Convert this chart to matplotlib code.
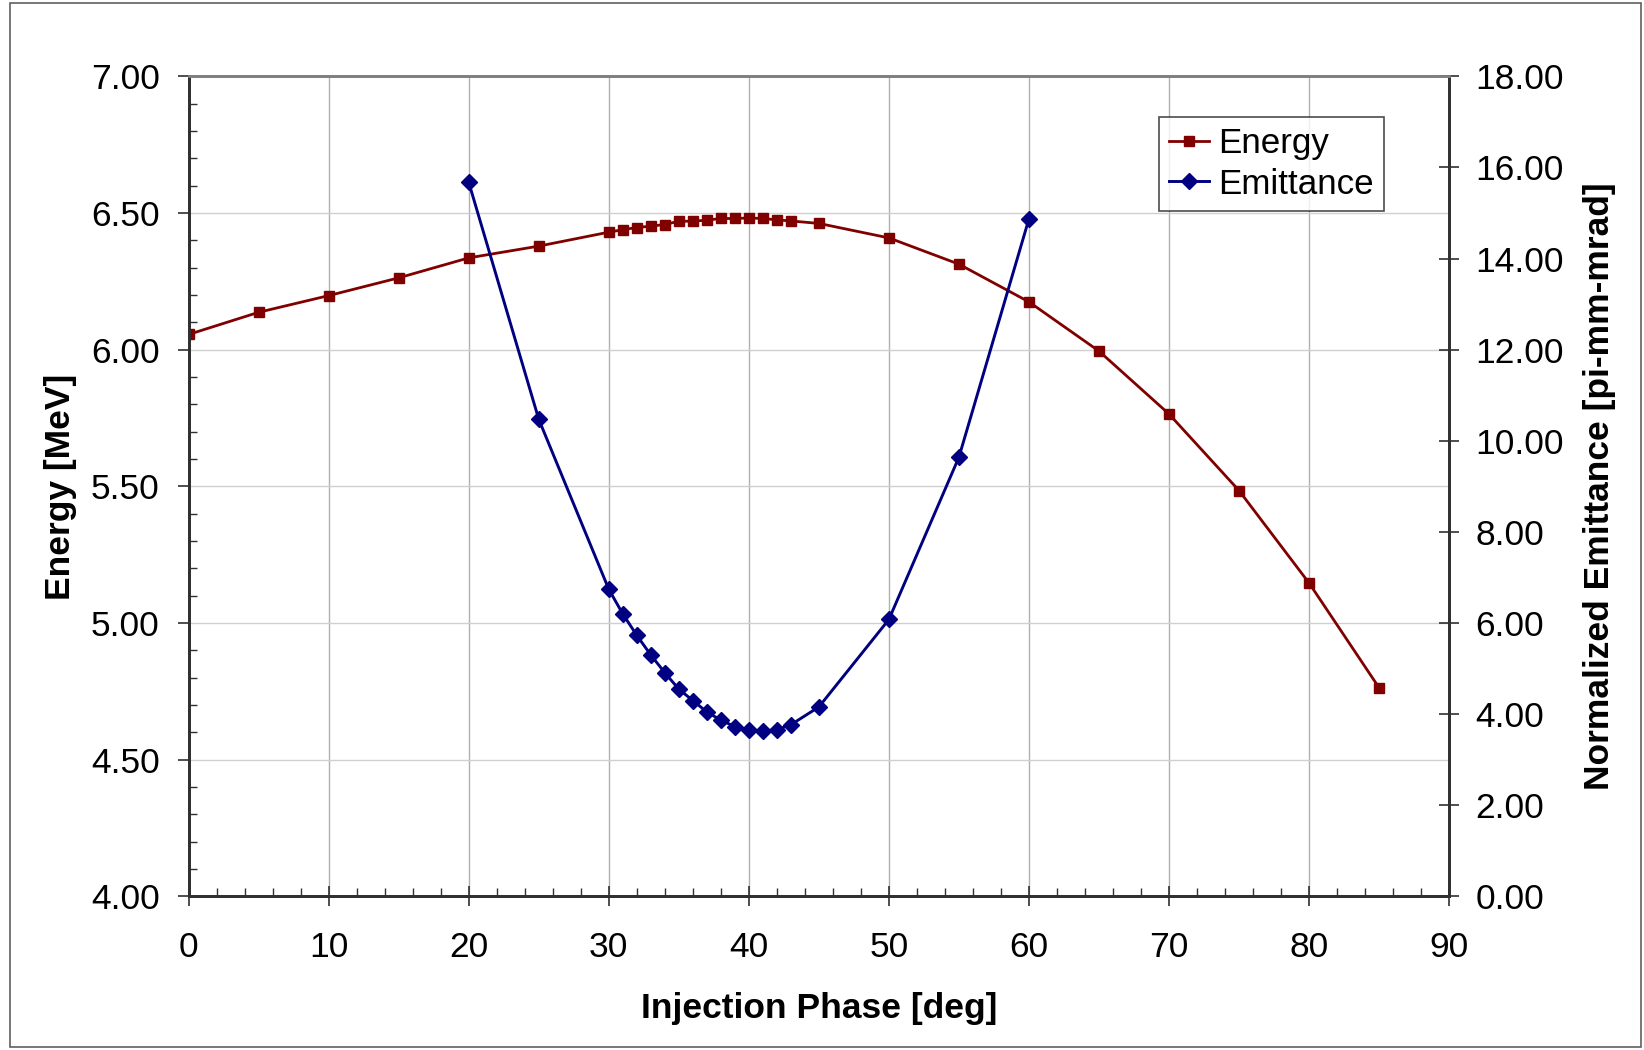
import matplotlib
matplotlib.use("Agg")
import matplotlib.pyplot as plt
from matplotlib.patches import Rectangle
from matplotlib.ticker import MultipleLocator, FormatStrFormatter

plt.rcParams["font.family"] = ["Liberation Sans", "DejaVu Sans"]

# ── data ─────────────────────────────────────────────────────────────────
phase_energy = [0, 5, 10, 15, 20, 25, 30, 31, 32, 33, 34, 35, 36, 37, 38, 39,
                40, 41, 42, 43, 45, 50, 55, 60, 65, 70, 75, 80, 85]
energy = [6.056, 6.137, 6.198, 6.263, 6.336, 6.379, 6.430, 6.439, 6.447,
          6.452, 6.458, 6.470, 6.470, 6.474, 6.480, 6.480, 6.482, 6.480,
          6.475, 6.471, 6.462, 6.409, 6.313, 6.175, 5.995, 5.765, 5.485,
          5.147, 4.764]

phase_emit = [20, 25, 30, 31, 32, 33, 34, 35, 36, 37, 38, 39, 40, 41, 42,
              43, 45, 50, 55, 60]
emittance = [15.67, 10.47, 6.74, 6.20, 5.73, 5.30, 4.91, 4.55, 4.30, 4.05,
             3.87, 3.73, 3.66, 3.63, 3.66, 3.77, 4.16, 6.08, 9.64, 14.87]

RED = "#800000"
NAVY = "#000080"
AXIS = "#303030"
FS = 25.5
LABEL_FS = 25.5

fig = plt.figure(figsize=(16.44, 10.5), dpi=100)
fig.patch.set_facecolor("white")
fig.patches.append(Rectangle((10 / 1644, 3 / 1050), 1631 / 1644, 1044 / 1050,
                             transform=fig.transFigure, fill=False,
                             edgecolor="#606060", linewidth=1.2))

ax = fig.add_axes([0.1148, 0.1462, 0.7666, 0.7811])
ax2 = ax.twinx()

ln1, = ax.plot(phase_energy, energy, color=RED, lw=2.0, marker="s",
               markersize=6.8, label="Energy", zorder=3)
ln2, = ax2.plot(phase_emit, emittance, color=NAVY, lw=2.1, marker="D",
                markersize=8.3, label="Emittance", zorder=3)

ax.set_xlim(0, 90)
ax.set_ylim(4.0, 7.0)
ax2.set_ylim(0, 18)

ax.xaxis.set_major_locator(MultipleLocator(10))
ax.xaxis.set_minor_locator(MultipleLocator(2))
ax.yaxis.set_major_locator(MultipleLocator(0.5))
ax.yaxis.set_minor_locator(MultipleLocator(0.1))
ax.yaxis.set_major_formatter(FormatStrFormatter("%.2f"))
ax2.yaxis.set_major_locator(MultipleLocator(2))
ax2.yaxis.set_major_formatter(FormatStrFormatter("%.2f"))

ax.tick_params(axis="x", which="major", direction="inout", length=14,
               width=1.2, pad=18, labelsize=FS, color=AXIS)
ax.tick_params(axis="x", which="minor", direction="in", length=5.5,
               width=1.0, color=AXIS)
ax.tick_params(axis="y", which="major", direction="out", length=8,
               width=1.2, pad=13, labelsize=FS, color=AXIS)
ax.tick_params(axis="y", which="minor", direction="in", length=5.5,
               width=1.0, color=AXIS)
ax2.tick_params(axis="y", which="major", direction="inout", length=14,
                width=1.2, pad=12, labelsize=FS, color=AXIS)

# grid
ax.grid(True, axis="x", which="major", color="#b0b0b0", lw=1.0)
ax.grid(True, axis="y", which="major", color="#d0d0d0", lw=1.0)
ax.set_axisbelow(True)

for a in (ax, ax2):
    for side in ("left", "bottom", "right"):
        a.spines[side].set_color(AXIS)
        a.spines[side].set_linewidth(2.0)
    a.spines["top"].set_color("#808080")
    a.spines["top"].set_linewidth(2.0)

ax.set_xlabel("Injection Phase [deg]", fontsize=LABEL_FS, fontweight="bold")
ax.xaxis.set_label_coords(0.5, -0.136)
ax.xaxis.label.set_va("center")
ax.set_ylabel("Energy [MeV]", fontsize=LABEL_FS, fontweight="bold",
              va="center")
ax.yaxis.set_label_coords(-0.102, 0.5)
ax2.set_ylabel("Normalized Emittance [pi-mm-mrad]", fontsize=LABEL_FS,
               fontweight="bold", va="center", rotation=90)
ax2.yaxis.set_label_coords(1.1195, 0.5)

leg = ax2.legend(handles=[ln1, ln2], loc="upper left",
                 bbox_to_anchor=(0.7696, 0.951), fontsize=25.2, frameon=True,
                 fancybox=False, borderpad=0.3, handlelength=1.15,
                 handletextpad=0.25, labelspacing=0.22, borderaxespad=0)
leg.get_frame().set_edgecolor("#202020")
leg.get_frame().set_linewidth(1.2)

fig.savefig("out.png", dpi=100, facecolor="white")
